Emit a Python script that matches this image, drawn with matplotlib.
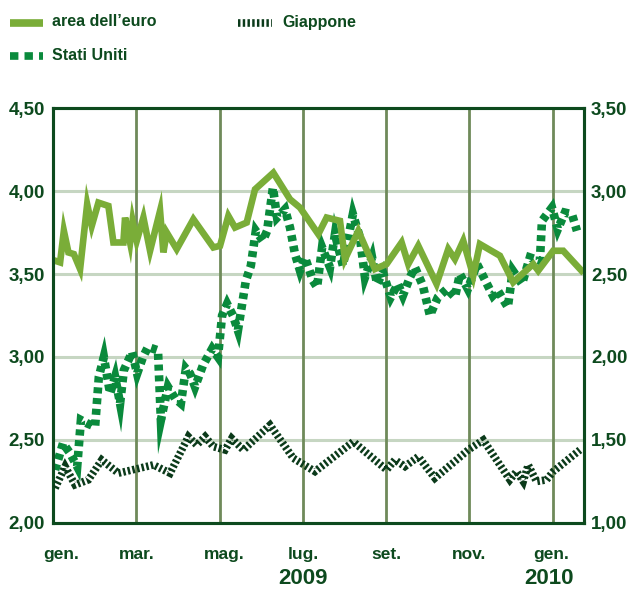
import matplotlib.pyplot as plt
import matplotlib.transforms as mtransforms

# time axis in months since 1 Jan 2009
euro_t = [0.05, 0.17, 0.26, 0.37, 0.50, 0.65, 0.82, 0.93, 1.09, 1.33, 1.45, 1.69,
          1.73, 1.85, 1.91, 2.01, 2.17, 2.33, 2.57, 2.65, 2.73, 2.97, 3.37, 3.85,
          4.01, 4.21, 4.37, 4.65, 4.85, 5.29, 5.69, 5.93, 6.37, 6.57, 6.89, 7.01,
          7.33, 7.73, 8.01, 8.37, 8.53, 8.77, 9.21, 9.49, 9.65, 9.85, 10.09, 10.25,
          10.73, 11.05, 11.53, 11.65, 12.01, 12.25, 12.69]
euro = [3.58, 3.57, 3.76, 3.63, 3.62, 3.53, 3.92, 3.79, 3.93, 3.91, 3.69, 3.69,
        3.84, 3.69, 3.82, 3.70, 3.84, 3.64, 3.88, 3.63, 3.75, 3.65, 3.83, 3.66,
        3.67, 3.85, 3.78, 3.81, 4.01, 4.11, 3.95, 3.90, 3.74, 3.84, 3.82, 3.59,
        3.76, 3.53, 3.56, 3.69, 3.56, 3.67, 3.44, 3.65, 3.59, 3.70, 3.49, 3.68,
        3.61, 3.45, 3.56, 3.52, 3.64, 3.64, 3.52]

us_t = [0.05, 0.24, 0.41, 0.58, 0.67, 0.82, 1.01, 1.10, 1.22, 1.37, 1.49, 1.61,
        1.70, 1.90, 2.02, 2.16, 2.28, 2.52, 2.59, 2.76, 2.93, 3.07, 3.19, 3.29,
        3.41, 3.60, 3.82, 3.96, 4.06, 4.18, 4.32, 4.44, 4.63, 4.75, 4.87, 5.04,
        5.14, 5.28, 5.38, 5.57, 5.69, 5.81, 5.93, 6.05, 6.24, 6.34, 6.46, 6.65,
        6.77, 6.96, 7.20, 7.37, 7.49, 7.66, 7.78, 7.92, 8.11, 8.28, 8.40, 8.57,
        8.69, 8.88, 9.05, 9.24, 9.46, 9.65, 9.77, 9.96, 10.18, 10.30, 10.56, 10.68,
        10.92, 11.04, 11.26, 11.45, 11.69, 11.74, 11.98, 12.12, 12.29, 12.46, 12.58]
us = [2.32, 2.48, 2.42, 2.34, 2.62, 2.60, 2.58, 2.88, 3.00, 2.78, 2.88, 2.72,
      2.92, 3.03, 2.90, 3.00, 3.06, 3.04, 2.62, 2.82, 2.75, 2.72, 2.93, 2.90,
      2.82, 2.95, 3.05, 3.00, 3.25, 3.32, 3.25, 3.16, 3.46, 3.55, 3.76, 3.70,
      3.76, 4.02, 3.84, 3.89, 3.78, 3.62, 3.52, 3.60, 3.46, 3.42, 3.66, 3.54,
      3.74, 3.55, 3.86, 3.72, 3.48, 3.60, 3.44, 3.51, 3.36, 3.44, 3.37, 3.48,
      3.54, 3.43, 3.25, 3.36, 3.41, 3.36, 3.50, 3.41, 3.56, 3.50, 3.37, 3.40,
      3.30, 3.52, 3.44, 3.60, 3.58, 3.82, 3.90, 3.77, 3.87, 3.86, 3.76]

jp_t = [0.05, 0.29, 0.53, 0.85, 1.17, 1.57, 2.41, 2.81, 3.25, 3.45, 3.65, 3.85,
        4.13, 4.29, 4.57, 5.21, 5.77, 6.29, 7.21, 8.01, 8.21, 8.45, 8.77, 9.17,
        9.97, 10.33, 10.97, 11.13, 11.29, 11.41, 11.61, 11.85, 12.01, 12.65]
jp = [1.21, 1.34, 1.23, 1.26, 1.38, 1.30, 1.35, 1.30, 1.52, 1.47, 1.52, 1.46,
      1.44, 1.51, 1.44, 1.59, 1.39, 1.31, 1.49, 1.32, 1.38, 1.34, 1.40, 1.27,
      1.44, 1.50, 1.26, 1.31, 1.25, 1.35, 1.25, 1.26, 1.31, 1.44]

left_ticks = [2.0, 2.5, 3.0, 3.5, 4.0, 4.5]
right_ticks = [1.0, 1.5, 2.0, 2.5, 3.0, 3.5]
month_labels = ['gen.', 'mar.', 'mag.', 'lug.', 'set.', 'nov.', 'gen.']
years = ['2009', '2010']

DARK = '#0d4a1e'
EURO_C = '#7aad38'
US_C = '#0a8a3c'
JP_C = '#0b3a1a'

plt.rcParams['font.family'] = ['Liberation Sans', 'DejaVu Sans']
plt.rcParams['font.weight'] = 'bold'

fig = plt.figure(figsize=(6.29, 5.90), dpi=100)
ax = fig.add_axes([0.0843, 0.1136, 0.8442, 0.7033])
ax2 = ax.twinx()

ax.set_xlim(0, 12.75)
ax.set_ylim(2.0, 4.5)
ax2.set_ylim(1.0, 3.5)

# grid
for y in left_ticks[1:-1]:
    ax.axhline(y, color='#c6d6c2', lw=2.2, zorder=1)
for m in range(2, 13, 2):
    ax.axvline(m, color='#6f8a5a', lw=2.0, zorder=1)

ax.plot(us_t, us, color=US_C, lw=6.2, dashes=(0.7, 0.55),
        dash_joinstyle='miter', dash_capstyle='butt', zorder=3)
ax.plot(euro_t, euro, color=EURO_C, lw=4.8, solid_joinstyle='miter', zorder=4)
ax2.plot(jp_t, jp, color=JP_C, lw=5.5, dashes=(0.32, 0.3),
         dash_joinstyle='miter', dash_capstyle='butt', zorder=3)

for a in (ax, ax2):
    for s in a.spines.values():
        s.set_color(DARK)
        s.set_linewidth(2.2)

ax.set_yticks(left_ticks)
ax.set_yticklabels([f'{v:.2f}'.replace('.', ',') for v in left_ticks])
ax2.set_yticks(right_ticks)
ax2.set_yticklabels([f'{v:.2f}'.replace('.', ',') for v in right_ticks])
ax.tick_params(axis='y', length=0, pad=6, labelsize=13.5, labelcolor=DARK)
ax2.tick_params(axis='y', length=0, pad=5, labelsize=13.5, labelcolor=DARK)

ax.set_xticks([0.2, 2, 4.1, 6, 8, 10, 11.95])
ax.set_xticklabels(month_labels)
ax.tick_params(axis='x', length=0, pad=17, labelsize=12.5, labelcolor=DARK)

trans = mtransforms.blended_transform_factory(ax.transData, ax.transAxes)
ax.text(6.0, -0.133, years[0], transform=trans, ha='center', va='center',
        fontsize=16, color=DARK, fontweight='bold')
ax.text(11.9, -0.133, years[1], transform=trans, ha='center', va='center',
        fontsize=16, color=DARK, fontweight='bold')

# legend
fig.add_artist(plt.Line2D([10 / 629, 43 / 629], [1 - 23 / 590] * 2,
                          color=EURO_C, lw=5.5, solid_capstyle='butt'))
fig.text(52 / 629, 1 - 22 / 590, 'area dell\u2019euro', fontsize=11.5,
         color=DARK, va='center', ha='left')
fig.add_artist(plt.Line2D([238 / 629, 272 / 629], [1 - 23 / 590] * 2,
                          color=JP_C, lw=5.5, dashes=(0.32, 0.3),
                          dash_capstyle='butt'))
fig.text(282 / 629, 1 - 22 / 590, 'Giappone', fontsize=11.5,
         color=DARK, va='center', ha='left')
fig.add_artist(plt.Line2D([10 / 629, 43 / 629], [1 - 56 / 590] * 2,
                          color=US_C, lw=5.5, dashes=(1.1, 0.8),
                          dash_capstyle='butt'))
fig.text(52 / 629, 1 - 55 / 590, 'Stati Uniti', fontsize=11.5,
         color=DARK, va='center', ha='left')

fig.savefig('out.png', dpi=100)
